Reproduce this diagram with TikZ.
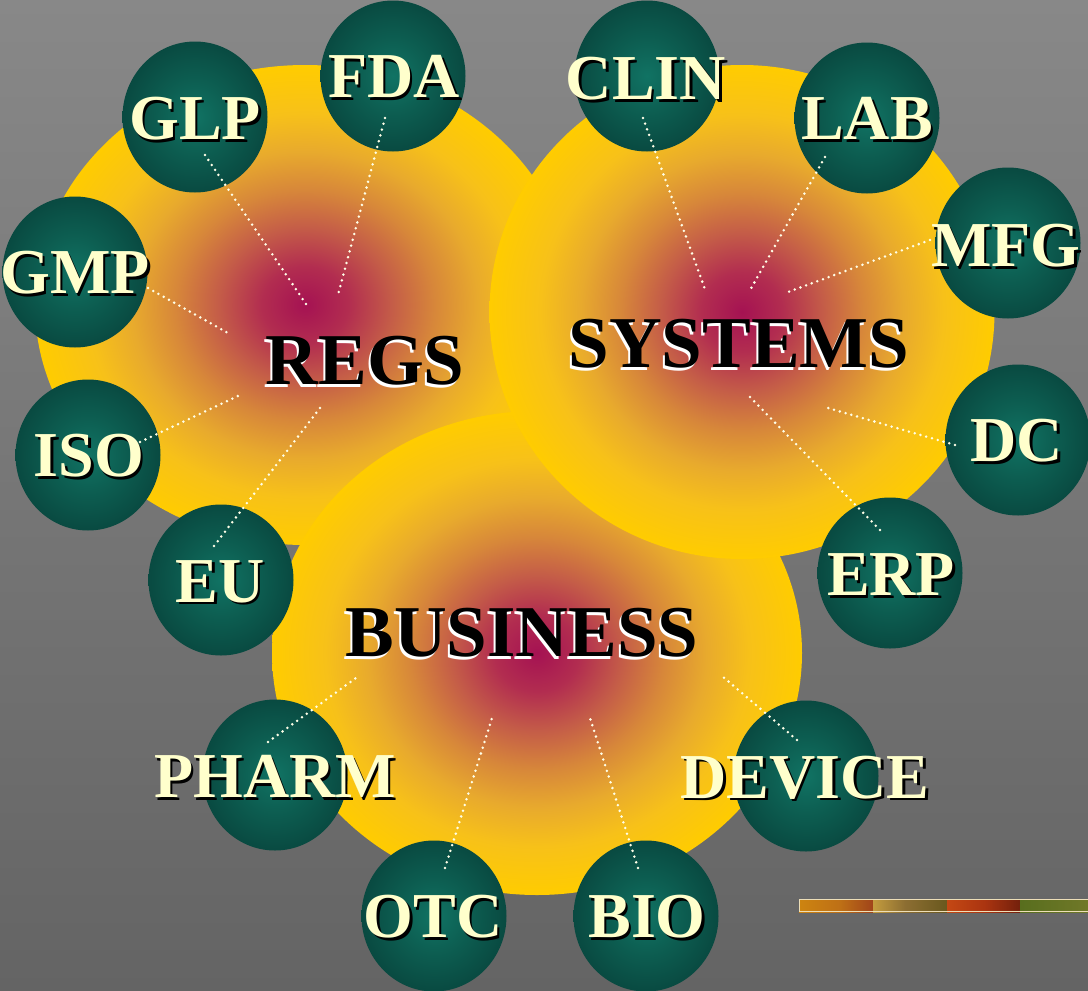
\documentclass[tikz,border=0pt]{standalone}
\usepackage{fontspec}
\setmainfont{Liberation Serif}
\usetikzlibrary{shapes.geometric}

\definecolor{bgtop}{RGB}{136,136,136}
\definecolor{bgbot}{RGB}{100,100,100}
\definecolor{cream}{RGB}{255,255,204}
\definecolor{dotc}{RGB}{255,255,232}
\definecolor{stripedge}{RGB}{236,222,184}

% crimson core fading to gold at the rim (25bp = rim of the shaded path)
\pgfdeclareradialshading{hub}{\pgfpoint{0bp}{0bp}}{%
  rgb(0bp)=(.647,.071,.322);
  rgb(4bp)=(.698,.176,.314);
  rgb(8bp)=(.769,.361,.282);
  rgb(12bp)=(.843,.529,.227);
  rgb(16bp)=(.910,.667,.176);
  rgb(20bp)=(.969,.757,.098);
  rgb(25bp)=(1,.8,0);
  rgb(50bp)=(1,.8,0)}

% teal ball for the satellite discs
\pgfdeclareradialshading{greenball}{\pgfpoint{0bp}{0bp}}{%
  rgb(0bp)=(.065,.45,.39);
  rgb(12bp)=(.05,.37,.32);
  rgb(25bp)=(.035,.29,.255);
  rgb(50bp)=(.035,.29,.255)}

% text with an offset copy behind it: dx, dy, shadow colour, text
\newcommand\withshadow[4]{%
  \makebox[0pt][l]{\hspace*{#1}\raisebox{#2}{\textcolor{#3}{#4}}}#4}

\begin{document}
\begin{tikzpicture}[x=1pt,y=-1pt,
  hubdisc/.style={ellipse, inner sep=0pt, draw=none, shade, shading=hub},
  gdisc/.style={ellipse, inner sep=0pt, draw=none, shade, shading=greenball,
                minimum width=145pt, minimum height=151pt},
  sattext/.style={text=cream, inner sep=0pt,
                  font=\fontsize{64}{64}\selectfont\bfseries},
  hubtext/.style={text=black, inner sep=0pt,
                  font=\fontsize{73}{73}\selectfont\bfseries},
  dotline/.style={draw=dotc, line width=2.8pt, line cap=round,
                  dash pattern=on 0pt off 6pt}]

\useasboundingbox (0,0) rectangle (1088,991);
\shade[top color=bgtop, bottom color=bgbot] (0,0) rectangle (1088,991);

% the three hubs
\node[hubdisc, minimum width=540pt, minimum height=480pt] (regsdisc) at (305,305) {};
\node[hubdisc, minimum width=530pt, minimum height=484pt] (busdisc)  at (537,653) {};
\node[hubdisc, minimum width=505pt, minimum height=494pt] (sysdisc)  at (742,312) {};

% satellite discs
\node[gdisc] (fdadisc)    at (393,76)  {};
\node[gdisc] (glpdisc)    at (195,117) {};
\node[gdisc] (gmpdisc)    at (75,272)  {};
\node[gdisc] (isodisc)    at (88,455)  {};
\node[gdisc] (eudisc)     at (221,580) {};
\node[gdisc] (clindisc)   at (647,76)  {};
\node[gdisc] (labdisc)    at (867,118) {};
\node[gdisc] (mfgdisc)    at (1008,243) {};
\node[gdisc] (dcdisc)     at (1018,440) {};
\node[gdisc] (erpdisc)    at (890,573) {};
\node[gdisc] (pharmdisc)  at (275,775) {};
\node[gdisc] (devicedisc) at (806,776) {};
\node[gdisc] (otcdisc)    at (434,916) {};
\node[gdisc] (biodisc)    at (646,916) {};

% spoke end points
\coordinate (glp-a) at (205,155);   \coordinate (glp-b) at (308,307);
\coordinate (fda-a) at (385,118);   \coordinate (fda-b) at (338,295);
\coordinate (gmp-a) at (148,288);   \coordinate (gmp-b) at (228,333);
\coordinate (iso-a) at (140,442);   \coordinate (iso-b) at (238,396);
\coordinate (eu-a)  at (214,546);   \coordinate (eu-b)  at (320,408);
\coordinate (clin-a) at (643,118);  \coordinate (clin-b) at (706,292);
\coordinate (lab-a) at (825,157);   \coordinate (lab-b) at (749,292);
\coordinate (mfg-a) at (930,240);   \coordinate (mfg-b) at (788,292);
\coordinate (dc-a)  at (955,445);   \coordinate (dc-b)  at (828,408);
\coordinate (erp-a) at (880,530);   \coordinate (erp-b) at (748,395);
\coordinate (pharm-a) at (268,742); \coordinate (pharm-b) at (360,675);
\coordinate (device-a) at (797,740);\coordinate (device-b) at (722,676);
\coordinate (otc-a) at (445,868);   \coordinate (otc-b) at (492,718);
\coordinate (bio-a) at (638,868);   \coordinate (bio-b) at (590,718);

\foreach \s in {glp,fda,gmp,iso,eu,clin,lab,mfg,dc,erp,pharm,device,otc,bio}
  \draw[dotline] (\s-a) -- (\s-b);

% hub labels (white copy offset down-left)
\node[hubtext] (regs)     at (365,362) {\withshadow{-2pt}{-2.5pt}{white}{REGS}};
\node[hubtext] (systems)  at (739,345) {\withshadow{-2pt}{-2.5pt}{white}{SYSTEMS}};
\node[hubtext] (business) at (522,634) {\withshadow{-2pt}{-2.5pt}{white}{BUSINESS}};

% satellite labels (black copy offset down-right)
\foreach \n/\x/\y/\t in {fda/394/78/FDA, glp/195/120/GLP, gmp/75/274/GMP,
    iso/89/457/ISO, eu/220/583/EU, clin/646/80/CLIN, lab/867/120/LAB,
    mfg/1006/247/MFG, dc/1017/442/DC, erp/891/576/ERP, pharm/275/778/PHARM,
    device/805/779/DEVICE, otc/433/918/OTC, bio/647/918/BIO}
  \node[sattext] (\n) at (\x,\y) {\withshadow{2.5pt}{-2.5pt}{black}{\t}};

% textured strip, lower right
\begin{scope}
  \shade[left color={rgb,255:red,205;green,132;blue,16}, right color={rgb,255:red,190;green,112;blue,22}] (799,899) rectangle (840,912);
  \shade[left color={rgb,255:red,190;green,112;blue,22}, right color={rgb,255:red,160;green,68;blue,26}] (840,899) rectangle (873,912);
  \shade[left color={rgb,255:red,196;green,156;blue,62}, right color={rgb,255:red,140;green,110;blue,50}] (873,899) rectangle (905,912);
  \shade[left color={rgb,255:red,140;green,110;blue,50}, right color={rgb,255:red,105;green,88;blue,30}] (905,899) rectangle (947,912);
  \shade[left color={rgb,255:red,196;green,72;blue,20}, right color={rgb,255:red,170;green,52;blue,16}] (947,899) rectangle (985,912);
  \shade[left color={rgb,255:red,170;green,52;blue,16}, right color={rgb,255:red,115;green,32;blue,12}] (985,899) rectangle (1020,912);
  \shade[left color={rgb,255:red,88;green,110;blue,30}, right color={rgb,255:red,112;green,120;blue,40}] (1020,899) rectangle (1088,912);
  \draw[stripedge, line width=1pt] (799,899.5) -- (1088,899.5);
  \draw[stripedge, line width=1pt] (799,911.5) -- (1088,911.5);
  \draw[stripedge, line width=1pt] (799.5,899) -- (799.5,912);
\end{scope}
\end{tikzpicture}
\end{document}
